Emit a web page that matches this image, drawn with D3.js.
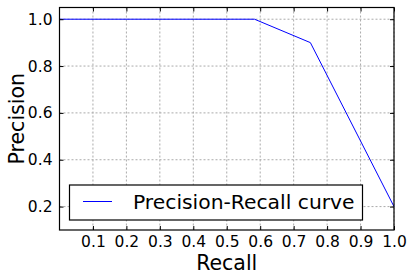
<!DOCTYPE html>
<html>
<head>
<meta charset="utf-8">
<script src="https://cdn.jsdelivr.net/npm/d3@7"></script>
<style>
  body { margin: 0; background: #fff; }
  svg text { font-family: "DejaVu Sans", sans-serif; fill: #000; }
</style>
</head>
<body>
<svg id="chart"></svg>
<script>
// chart data
var recall = [0.0, 0.583, 0.75, 1.0];
var precision = [1.0, 1.0, 0.9, 0.2];
var xTicks = [0.1, 0.2, 0.3, 0.4, 0.5, 0.6, 0.7, 0.8, 0.9, 1.0];
var yTicks = [0.2, 0.4, 0.6, 0.8, 1.0];
var seriesName = "Precision-Recall curve";

var width = 412, height = 280;
var margin = {top: 7.5, right: 18, bottom: 50, left: 59.5};
var w = width - margin.left - margin.right;
var h = height - margin.top - margin.bottom;

var svg = d3.select("#chart").attr("width", width).attr("height", height);
var g = svg.append("g").attr("transform", "translate(" + margin.left + "," + margin.top + ")");

var x = d3.scaleLinear().domain([0, 1]).range([0, w]);
var y = d3.scaleLinear().domain([0.1, 1.05]).range([h, 0]);

// grid
g.append("g").selectAll("line").data(xTicks).enter().append("line")
  .attr("x1", function(d) { return x(d); }).attr("x2", function(d) { return x(d); })
  .attr("y1", 0).attr("y2", h)
  .attr("stroke", "#aaa").attr("stroke-width", 1).attr("stroke-dasharray", "2,2");
g.append("g").selectAll("line").data(yTicks).enter().append("line")
  .attr("y1", function(d) { return y(d); }).attr("y2", function(d) { return y(d); })
  .attr("x1", 0).attr("x2", w)
  .attr("stroke", "#aaa").attr("stroke-width", 1).attr("stroke-dasharray", "2,2");

// line
var pts = recall.map(function(r, i) { return [r, precision[i]]; });
var line = d3.line().x(function(d) { return x(d[0]); }).y(function(d) { return y(d[1]); });
g.append("path").datum(pts).attr("d", line)
  .attr("fill", "none").attr("stroke", "#0000ff").attr("stroke-width", 1);

// axes (ticks inside, mirrored)
var fmt = d3.format(".1f");
var xb = g.append("g").attr("transform", "translate(0," + h + ")")
  .call(d3.axisBottom(x).tickValues(xTicks).tickFormat(fmt).tickSizeInner(-4).tickSizeOuter(0).tickPadding(6));
var yl = g.append("g")
  .call(d3.axisLeft(y).tickValues(yTicks).tickFormat(fmt).tickSizeInner(-4).tickSizeOuter(0).tickPadding(7));
g.append("g").call(d3.axisTop(x).tickValues(xTicks).tickFormat("").tickSizeInner(-4).tickSizeOuter(0));
g.append("g").attr("transform", "translate(" + w + ",0)")
  .call(d3.axisRight(y).tickValues(yTicks).tickFormat("").tickSizeInner(-4).tickSizeOuter(0));
g.selectAll(".domain").remove();
g.selectAll(".tick line").attr("stroke", "#000");
g.selectAll(".tick text").attr("font-family", null).attr("font-size", null)
  .style("font-size", "15.5px").attr("fill", "#000");

// frame
g.append("rect").attr("x", 0).attr("y", 0).attr("width", w).attr("height", h)
  .attr("fill", "none").attr("stroke", "#000").attr("stroke-width", 1.2);

// axis labels
svg.append("text").attr("x", margin.left + w / 2).attr("y", 270)
  .attr("text-anchor", "middle").style("font-size", "20.5px").text("Recall");
svg.append("text").attr("transform", "translate(24," + (margin.top + h / 2) + ") rotate(-90)")
  .attr("text-anchor", "middle").style("font-size", "20.5px").text("Precision");

// legend
var lg = svg.append("g");
lg.append("rect").attr("x", 69.5).attr("y", 185).attr("width", 293).attr("height", 35)
  .attr("fill", "#fff").attr("stroke", "#000").attr("stroke-width", 1.2);
lg.append("line").attr("x1", 83).attr("x2", 112).attr("y1", 201.5).attr("y2", 201.5)
  .attr("stroke", "#0000ff").attr("stroke-width", 1);
lg.append("text").attr("x", 133).attr("y", 209).style("font-size", "20.3px").text(seriesName);
</script>
</body>
</html>
